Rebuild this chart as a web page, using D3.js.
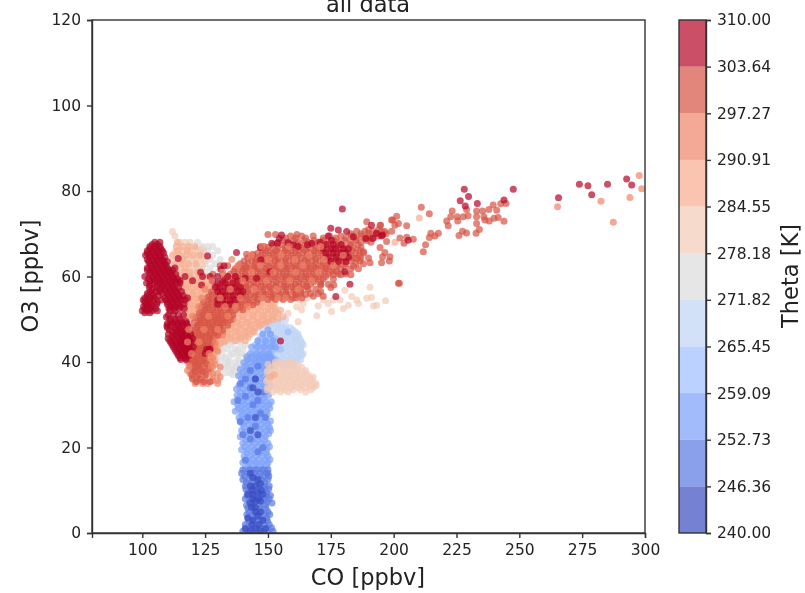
<!DOCTYPE html>
<html><head><meta charset="utf-8">
<script src="https://cdn.jsdelivr.net/npm/d3@7"></script>
<style>html,body{margin:0;background:#fff}svg{display:block;filter:blur(0.35px)}text{font-family:"DejaVu Sans",sans-serif;fill:#222}</style>
</head><body><svg id="c" width="805" height="593"></svg>
<script>
// every row: [O3, CO, CO, ...]
const theta240=[[0.5,143,147],[1,141,145,149],[2,143.6,146.4],[3,144,148],[3.5,142],[4,146],[5,145,147],[6,145,143.4],[7,143],[7.5,147,145],[8,144,146.3],[9,142,144,148],[9.5,146],[10,143.6,147.4],[11,143,145],[11.5,147],[12.5,146],[13,144],[14,143],[23,146],[24,143],[27,145],[33,146],[34,144],[36,145]];
const theta246=[[0.4,140,142,144,146,148,150,152],[1.2,141.2,143.3,145.4,147.6,149.6,151.4],[2,141,143.5,146,148.5,150.5],[2.8,142.4,144.8,147.3,149.8],[3.5,142,144.5,147,149.5],[4.3,141.6,143.8,146.2,148.7,150.7],[5,142.5,145,147.5,150],[5.8,142,144.3,146.8,149.2],[6.5,141.5,144,146.5,149],[7,151.6],[7.3,142.5,145,147.5,149.7],[8,141,143.5,146,148.5,150.5],[8.8,141.7,144.2,146.6,149.2,151],[9.5,142,144.5,147,149.5],[10.3,141.2,143.8,146.3,148.8,150.3],[11,141,143.5,146,148.5,150.5],[11.8,141.4,143.7,146.2,148.7],[12.5,140,142.5,145,147.5,150],[13.3,140.7,143.4,145.8,148.2,150.3],[14,139.5,142,144.5,147,149.5,150],[14.8,140,142.7,145.2,147.8,150],[17,141],[19,146],[20,148],[22,143],[23,140],[25,145],[26,139],[27,142,149],[28,147],[30,144],[31,138,146],[32,141],[33,148],[34,143],[35,139],[36,141,145],[38,143],[39,146]];
const theta252=[[15,141,143.5,146,148.5],[15.8,142.2,144.8,147.2,149.6],[16.5,140,142.5,145,147.5,150],[17.2,141.3,143.7,146.2,148.8,150.8],[18,140.5,143,145.5,148,150],[18.7,141.7,144.4,146.8,149.3],[19.5,139.5,142,144.5,147,149.5],[20.2,140.7,143.4,145.8,148.3,150.6],[21,140,142.5,145,147.5,150],[21.7,141.2,143.8,146.2,148.7],[22.5,139,141.5,144,146.5,149],[23.2,140.3,142.8,145.3,147.8,150.3],[24,139.5,142,144.5,147,149.5,151],[24.7,140.7,143.4,145.8,148.4,150.6],[25.5,140,142.5,145,147.5,150],[26.2,139,141.3,143.8,146.3,148.8,151],[27,138.5,141,143.5,146,148.5],[27.7,139.7,142.3,144.8,147.3,149.7],[28.5,137,139.5,142,144.5,147,149.5],[29.2,138.3,140.8,143.3,145.8,148.3,150.7],[30,138,140.5,143,145.5,148,150.5],[30.7,136.5,139.3,141.8,144.4,146.8,149.3,151.3],[31.5,138.5,141,143.5,146,148.5],[32.2,137.7,140.2,142.8,145.3,147.8,150.2],[33,139,141.5,144,146.5,149],[33.7,137.5,140.2,142.8,145.4,147.8,150],[34.5,138.5,141,143.5,146,148.5,151],[35.2,140,142.5,145,147.5,150],[36,139.5,142,144.5,147,149.5],[36.8,138.3,141,143.3,145.8,148.4,151],[37.5,140,142.5,145,147.5,150],[38.3,139,141.7,144.3,146.8,149.3],[39,141,143.5,146,148.5,151],[39.8,140.4,142.8,145.3,147.8,150.3],[40.5,142,144.5,147,149.5,152],[41.2,141.6,143.7,146.3,148.8,151],[42,143,145.5,148,150.5],[43.5,143.5,146,148.5,151,153],[45,146,149,152],[46.5,148,151],[47.5,150]];
const theta259=[[47,158],[46.5,148,151],[45.5,147.5,150.5,153],[45,146,149,152],[44.5,146.5,149.5,152.5],[44,145,148,151],[43.5,145.5,148.5,151.5],[43,147,150,153,155],[42.5,145.5,148.5,151.5],[42,144,147,150],[41.5,147.5,150.5],[41,146,149,152],[40.5,146.5,149.5,153],[40,145,148,151],[39.5,148.5,151.5],[39,147,150],[38,149]];
const theta265=[[50,157],[49.5,151,154],[49,149,152,155],[48.5,151,154,157],[48,146,150,153,156,159],[47.5,148,154,157,160],[47,152,155,158,161],[46.5,152,156,159,162],[46,147,150,154,157,160,162],[45.5,150,153.5,157,160,162.5],[45,152,155,158,161,163],[44.5,151,154.5,157.5,160.5,163.5],[44,149,153,156,159,162,164],[43.5,154,157,160,163],[43,152,155,158,161,163],[42.5,151,154.5,157.5,160.5,163],[42,150,153,156,159,162,164],[41.5,151.5,155,158,161,163.5],[41,153,156,159,162],[40.5,154,157,160,163],[40,152,155,158,161],[39.5,155,158.5],[39,153,157,160]];
const theta271=[[50,150],[49,147],[47,144],[46,141,137],[45,138,134],[44.5,133,136,139],[44,135,141,131],[43,131,134,137,140,132,138,128.6],[42,136,139,130],[41.5,132,135,138,141],[41,130,133,142],[40.2,131.5,134.5,138.5,141.5],[40,137,140,134],[39,131,134,137.4],[38.8,133,136,139,142],[38,141,136],[37.5,133,135,138],[37,136,139],[68,122],[67,124,128,126],[66,126,130,123],[65,124,128],[64,127,131],[63,125,129],[62,122,133,127],[61,130,125],[60,127],[59,129]];
const theta278=[[70.5,112],[69.5,113],[68,115,117,119],[66.5,115,118,121,123.5],[66,116,119,122],[65.8,113,116,119,122,124.5],[64.6,113.5,116.3,119,121.8,124.6],[64,118,121,124],[63.6,112,114.6,117,120,122.6,125],[62.4,112.6,115.4,118.6,121.5,124],[62,114,120,123],[61.6,112.4,115.2,118,120.8,123.6],[61,117],[60.4,113.2,116,118.8,121.4,124.2],[60,115,120,123,125],[58,118,122,125,128],[57,125],[56,120],[55,123,126],[53,122,125],[51,120],[50,124],[46,132],[45,129],[44,126],[43,130],[42,127],[40,128,153,155,158,160],[39.5,150,153,156,159,162],[38.8,151.4,154.4,157.4,160.4,163.4],[38,150,153,156,159,162,165],[37.6,149.6,152.4,155.4,158.4,161.4,164.4],[37,151,154,157,160,163,166],[36.5,153.4,156.4,159.4,162.4,165.4,168],[36,150,152,155,158,161,164,167],[35.5,149.5,152.6,155.6,158.6,161.6,164.6,167.6],[35,151,154,157,160,163,166,169],[34.5,151.6,154.5,157.6,160.6,163.6,166.6,169.2],[34,150,153,156,159,162,165,168],[33.5,149.6,153.6,156.6,160,163,167],[33,152,155,158,165],[54.5,162.7,172,178.7,176,185.3],[52.9,161.4],[53.7,164,174,186],[54.9,165.4,189.3],[52.2,163.4],[53.1,170,192],[51.8,175.3],[50.8,169.4],[52.5,180],[53.3,182,193.2],[55.3,183.3],[55.1,191.2],[54.3,196.8],[57.5,190.6],[56.8,180.6],[49.4,162],[51.4,158]];
const theta284=[[68,114],[67,113.5,116,118.5,121],[66,114,118],[65,112,114.7,117.5,120.2,123],[64,116],[63,113,115.6,118.4,121.4],[62,117],[61,113.7,116.5,119,122],[60,119],[59.6,114,116.6,119.4,122.2,125],[59,115,118,120.6,123.5],[58.3,114,116.6,119.2,122,124.8,127],[57.6,116,118.8,121.6,124.4,127],[57,114.6,117.4,120.2,123,126],[56.4,115.6,118,120.6,123.4,126.4],[55.6,117.2,119.8,122.2,124.6,127],[55,121,116,118.5,123,125.6,128],[54.3,115.8,118,120.4,122.6,125],[54,128,132,136,140,144,148],[53.8,126,130,134,138,142,146,150,152.6],[53.6,117,119,121.4,124],[53.3,127,131,135,139,143,147,151],[53,119,115.5,117.6,120.5,123.4],[52.9,128,132,136,140,144,148,152],[52.5,126,130,134,138,142,146,150,153],[52.4,116.4,118.6,121,123.2,125.4],[52.1,122,127,131,135,139,143,147,151,155],[51.8,124,129,133,137,141,145,149,153],[51.6,118,120.4,122.8],[51.4,126,130,134,138,142,146,150,154],[51,122,125,128,132,136,140,144,148,152,117,119.4,121.7],[50.6,124,128,132,136,140,144,148,152,156],[50.4,117.6,120,122.4],[50.2,126,130,134,138,142,146,150,154],[50,119],[49.9,128,132,136,140,144,148,152],[49.5,127,130,134,138,142,146,150],[49.2,123,126,130,133.5,137.5,141.5,145.5,149],[48.8,124,128,131.5,135.5,139.5,143.5,147.5],[48.4,127,131,135,139,143,146.6],[48,126,129,133,137,141,145],[47.7,125.6,129,132,135.5,139,142.5],[47.2,127,130,133,137,141,144],[47,121,126,134,138,141.6,144.6],[46.5,124,128,131,135,139,143],[46.1,123,126.5,130,133.5,137,140.6],[45.8,125,128,132,135,139,142],[45.4,124,128,131.5,135,139],[45,126,130,133,137,141],[44.6,122.6,125.4,129,132.5],[44.3,127,131],[43.9,124,127.5,130],[43.5,122,125,129],[43.1,121.5,124.5,128],[42.8,123,126,129.5],[42.4,122.5,125.5,129],[42,121,124,127],[41.6,120.5,123.5,127],[41.2,122,125,128.5],[40.9,121,124,127.5],[40.5,120,123,126,129],[40.2,122.5,125.5,128.5],[39.8,121,124,127],[39,122,125],[36.5,151],[37,152.5],[73.7,210.2],[68,200.5]];
const theta291=[[66,149,153,157,161,165,169,173,177],[64,145,149,153,157,161,165,169,173,177],[62,141,145,149,153,157,161,165,169,173],[60,137,141,145,149,153,157,161,165,169],[57.8,133,137,141,145,149,153,157,161,165],[55.8,133,137,141,145,149,153,157,161],[55,132,136,140,144,148,152,156,160],[50,124,127,130,133,136],[49.2,123,126,129],[48.5,122,125,128,131],[47,122,125,128,131],[46.3,123,126,129,132],[45.5,121,124,127],[44,123,126,129],[43.3,122,125,128],[42.5,121,124,127,130],[41,119,122,125,128],[40.2,120,124,127],[39.5,120,123,126,129],[38.8,122,125,128,131],[38,118,121,124,127],[37.3,119,122,125,128,130],[36.5,120,122,125,128,131],[35.7,122,125,128,130],[35,121,124,126,130],[77.6,282.5],[76.3,265.2],[78.5,294],[72.7,287.4],[83.6,297.7],[80.5,298.7]];
const theta297=[[75.3,223.3,233,235.4],[74,222.7,225.3,227.7,233,235.9],[74.2,229.6],[73,221.1,225.5,238],[71.9,221.7,205.2],[75.7,229,237.9],[72.4,233,201.9],[71,234.1],[70.1,232.8,217.8,214.8],[73.2,236.3,199.6,199.2],[76.7,239.6],[75.5,241],[77,242.6],[77.1,244.7],[73.6,239.9],[73.8,241.6],[72.9,243.9],[70.6,227.4,199.2],[69.6,226],[70.2,229],[69.5,216.4],[69.1,214.2],[67.4,212.7],[65.8,211.8,188],[76.2,211],[74.7,214.2],[74.1,201.2],[72,200.5,194.8,194.6],[70.5,196.5],[69,202.5],[68.7,207.8],[69.2,205.2],[67.8,204.1],[68.2,197.2],[66.8,194.6],[65.6,196.5],[64.6,198.5,195.6],[63.6,198.3],[63.2,195.2,190.6],[58.4,202.3,201.9],[72.8,189.3],[64.2,185.3],
[69.8,150,153,161.5],[67,147,148.5],[65.2,141.5,144],[62.5,134,131],[60.5,128,132],[56,163,167,170],[58,171,176.2],[55,161,163.5],[60.4,176,179,183],[55.4,168,172],[56.5,171],[57.4,175],
[71,190,194],[70.6,185.3,188.6,191.7,195.2],[70,183,187,190,193,197],[69.5,159,163.4,168,174.5,179,183.3,187.2,190.5,194],[69,157,161,165,172,177,181,185,189,192],[68.4,156,160.2,164.5,168.4,172,176.3,180.5,185,189.3],[68,154,158,162,166,170,174,178,183,187,191],[67.4,152,155.6,158.7,161.8,164.6,167.7,170.5,173.6,176.8,179.4,182.7,185.8],[66.8,150,154,157,160,163,166,169,172,175,178,181,184,187],[66.1,148,151,153.4,156.8,159.4,162.6,165.2,168.4,171.3,174.2,177.5,180.2,183.6,186.4],[65.5,146,149,152,155,158,161,164,167,170,173,176,179,182,185,188],[64.9,144,147.2,150.4,153.2,156,159.3,162,165.4,168,171.4,174,177.2,180.4,183,186.3],[64.3,142,145,148,151,154,157,160,163,166,169,172,175,178,181,184,187,190],[63.6,140.5,143.6,146.4,149.6,152.7,155.4,158.3,161.6,164.5,167.4,170.6,173.3,176.5,179.7,183,186.6],[63,139,142,145,148,151,154,157,160,163,166,169,172,175,178,181,185,188],[62.4,138.3,141.2,144.5,147.3,150.4,153.2,156.6,159.4,162.3,165.5,168.2,171.4,174.4,177.3,180.5,184],[61.8,137,140,143,146,149,152,155,158,161,164,167,170,173,176,179,183,186],[61.2,136.4,139.6,142.3,145.6,148.2,151.3,154.5,157.4,160.6,163.3,166.4,169.2,172.5,175.4,177.3],[60.6,135,138,141,144,147,150,153,156,159,162,165,168,171,174,178,181],[60,134,137.3,140.2,143,146.3,149.4,152.2,155.5,158.3,161.4,164.3,167.2,170.3,173],[59.4,133,136,139,142,145,148,151,154,157,160,163,166,169,172,176],[58.8,132.3,135.2,138.4,141.3,144.2,147.4,150.2,153.3,156.4,159.2,162.3,165.4,168.3,171],[58.2,131,134,137,140,143,146,149,152,155,158,161,164,167,171,174],[57.6,129.4,132.3,135.5,138.2,141.4,144.3,147.2,150.5,153.2,156.4,159.3,162.2,165.5],[57,130,133,136,139,142,145,148,151,154,157,160,163,166,169],[56.4,127.5,130.3,133.2,136.4,139.3,142.2,145.5,148.3,151.2,154.4,157.3,160.4,163.2],[55.8,128,131,134,137,140,143,146,149,152,155,158,161,165],[55.2,126.2,129.4,132.4,135.2,138.3,141.2,144.6,148,151.4,154.6,157.5],[54.6,127,130,133,136,139,142,146,150,153,156,159],[54,124.4,127.6,130.7,133.6,136.5,139.4,142.6,145.5],[53.4,126,129,132,135,138,141,144],[52.8,123.6,126.4,129.6,132.7,135.5,138.6],[52.2,125,128,131,134,137,140],[51.6,122.8,125.6,128.5,131.4,134.6],[51,124,127,130,133,136],[50.4,121.4,124.6,127.7,130.5,133.6],[49.8,123,126,129,132,135],[49.2,120.6,123.4,126.5,129.7,132.4],[48.6,122,125,128,131,134],[48,119,121.6,124.5,127.4,130.6],[47.4,120,123,126,129,132],[46.8,117.3,119.6,122.5,125.4,128.6],[46.2,118,121,124,127,130],[45.6,115.6,117.4,120.5,123.4,126.6],[45,116,119,122,125,128],[44.4,115.4,118.3,121.4,124.5,127.3],[43.8,117,120,123,126],[43.2,116.5,118.6,121.5,124.4],[42.6,116,119,122,125],[42,117.4,120.6,123.5],[41.4,117,120,123],[40.8,118.5,121.6,124.6],[40.2,118,121,124],[39.6,119.6,122.5,125.4],[39,119,122],[38.4,120.4,123.3,126.3],[37.8,121,124],[37,119.7,122.4,125.3],[36,120,123],[35.4,121.5,124.4,127]];
const theta291Over=[[67,147.6,158.4,171],[65,143.4,155.3,166.3,180],[64,135.6,150,160.7,172.4],[62.6,138,147,155,164,176],[61,132,143.5,152,161,170],[59,127.6,140,149.4,158.6,167.4],[57,125,135,144.6,153.4,162],[55,123.7,131,139,148,157,154],[53,122.5,133,137,142],[50.7,126.4,134,120],[47.6,118.5,124.6,130],[44.7,118,122.6,129],[42,119.6,126.6],[39,118.6,127.4]];
const theta304=[[80.4,228.1,247.6],[78.7,229.8],[77.7,226.5],[76.5,228.5],[77.1,233.3],[77.9,243.9],[78.4,265.6],[81.6,273.9,285.1],[81.2,277.3],[79.1,278.8],[82.8,292.7],[81.4,294.7],[68.5,205.8],[69.5,195.2],
[68,105,107],[67.5,104,106],[67,103,105,107],[66.5,103,105.3,107.4],[66,102,104,106,108],[65.5,102,104.2,106.3,108.5],[65,103,105,107,101.3],[64.5,103,105.4,107.3,109],[64,102,104,106,108],[63.5,102.5,104.3,106.4,108.5,110],[63,103,105,107,109],[62.5,103.4,105.5,107.6,109.5],[62,102,104,106,108,110,113],[61.5,102,104.4,106.5,108.6,110.5,112],[61,103,105,107,109,111,123.2],[60.5,103,105.4,107.3,109.4,111.6,113.3],[60,101,104,106,108,110,112,117,124,127,130,134,137],[59.5,102.4,104.5,106.6,108.3,110.4,112.4,114],[59,103,105,107,109,111,113,115,120,128,132,138],[58.5,101.7,104.4,107,109,111.4,113.4,115],[58,103,106,108,110,112,123.6],[57.5,102.8,105.5,108,110.3,112.3,114.5],[57,104,107,109,111,113],[56.5,103,105.5,106.8,109.2,111.4,113.3,115.6],[56,102,104,108,110,112,114],[55.5,102,104.3,106.5,110.3,112.4,114.4,116.3],[55,101,103,105,109,111,113,115,118],[54.5,100.4,102.4,104.6,107.5,109.5,111.4,113.2,115.4,117],[54,101,103,106,110,112,114],[53.5,101.6,103.4,105.7,110,112.3,114.4,116.6],[53,100.5,102,104,111,113,115],[52.5,101,103.2,105.3,110.6,112.6,114.8,116.7],[52,100,102,104,106,111,113],[51.5,101,103],[51,110.4,112.4,114.4,116.4],[50.5,109.6],[50,111,113,115],[49.5,111.3,113.4,115.6,117.4],[49,110,112,114,116,117.7],[48.5,109.8,111.4,114.2,116.2,118],[48,110,113,115],[47.5,110.8,113.4,115.3,117.3],[47,112,114,116],[46.5,110.4,113,115.2,117.3,119.2],[46,112,114,116,118],[45.5,110.3,112.4,114.5,116.4,118.4,120],[45,111,113,115,117,119],[44.5,111.4,113.5,115.5,117.4,119.4],[44,112,114,116,118],[43.5,112.4,114.4,116.5,118.5,120.3],[43,113,115,117,119,125.6,127,126.7],[42.5,113.4,115.4,117.5,119.4],[42,114,116,118,125],[41.5,114.4,116.3,118.4],[41,115,117],[40.6,115.3,117.4],[64.2,114.3],[64.8,126],
[58.5,130,133,136],[57.5,129,131,134,137,139],[56.5,130,132,135,138,140],[55.5,131,133,136,139],[54.5,130,132,135,137],[53.5,130,133,135],[61.7,131.3],[62.5,132.5],[65.6,137.5],[66.8,147],[67.8,151.5,153.7,167.4],[69.7,155.4,195.6],[68.9,154.5,188.9,191.6],[67.9,158],[67.4,160,165.7],[67,162],[68,170.7],[75.8,179.6],[71.3,175],[69.5,174],[70.9,178],[70.5,181.3],[68.5,175.3],[69.3,184],[72,191.2],[70.1,193.2],[58.2,182.6],[61.1,180.6,150.8],[55.3,177],[44.9,155],[63.9,147.2],[59.6,140.9,145.5],
[67.5,173,176,179],[66.5,172,175,177,180,182],[65.5,173,176,179,181],[64.5,174,177,180,182],[63.5,175,178,181]];
const bandLayers=[[5,theta271],[4,theta265],[3,theta259],[2,theta252],[1,theta246],[0,theta240],[6,theta278],[7,theta284],[8,theta291],[9,theta297],[10,theta304],[8,theta291Over]];
const bandColors=["#3b4cc0","#5977e3","#7b9ff9","#9ebeff","#c0d4f5","#dddcdc","#f2cbb7","#f7ac8e","#ee8468","#d65244","#b40426"];
const thetaTicks=[240,246.36,252.73,259.09,265.45,271.82,278.18,284.55,290.91,297.27,303.64,310];
const coTicks=[100,125,150,175,200,225,250,275,300];
const o3Ticks=[0,20,40,60,80,100,120];

const svg=d3.select("#c");
const x=d3.scaleLinear().domain([80,300]).range([92,645]);
const y=d3.scaleLinear().domain([0,120]).range([533,20]);
const cb=d3.scaleLinear().domain([240,310]).range([533,20]);

svg.append("clipPath").attr("id","plot").append("rect").attr("x",92).attr("y",20).attr("width",553).attr("height",513);
const pts=svg.append("g").attr("clip-path","url(#plot)");
bandLayers.forEach(([b,rows])=>{
  const data=rows.flatMap(r=>r.slice(1).map(co=>[co,r[0]]));
  pts.append("g").selectAll("circle").data(data).join("circle")
    .attr("cx",d=>x(d[0])).attr("cy",d=>y(d[1])).attr("r",3.5)
    .attr("fill",bandColors[b]).attr("fill-opacity",0.7);
});

function style(g,sz){g.selectAll("text").style("font-size",sz+"px").attr("fill","#222");g.selectAll("line,path").attr("stroke","#333").attr("stroke-width",1.4);}
const ax=svg.append("g").attr("transform","translate(0,533)").call(d3.axisBottom(x).tickValues(coTicks).tickSize(5).tickPadding(6).tickFormat(d3.format("d")));
style(ax,15.5);
const ay=svg.append("g").attr("transform","translate(92,0)").call(d3.axisLeft(y).tickValues(o3Ticks).tickSize(5).tickPadding(6).tickFormat(d3.format("d")));
style(ay,15.5);
svg.append("rect").attr("x",92).attr("y",20).attr("width",553).attr("height",513).attr("fill","none").attr("stroke","#333").attr("stroke-width",1.4);

// colorbar
svg.append("g").selectAll("rect").data(bandColors).join("rect")
  .attr("x",679).attr("width",27)
  .attr("y",(d,i)=>cb(thetaTicks[i+1])).attr("height",(d,i)=>cb(thetaTicks[i])-cb(thetaTicks[i+1]))
  .attr("fill",d=>d).attr("fill-opacity",0.7);
const ac=svg.append("g").attr("transform","translate(706,0)").call(d3.axisRight(cb).tickValues(thetaTicks).tickSize(5).tickPadding(6).tickFormat(d3.format(".2f")));
style(ac,15.5);
svg.append("rect").attr("x",679).attr("y",20).attr("width",27).attr("height",513).attr("fill","none").attr("stroke","#333").attr("stroke-width",1.4);

svg.append("text").attr("x",368).attr("y",12).attr("text-anchor","middle").style("font-size","22.5px").text("all data");
svg.append("text").attr("x",368).attr("y",585).attr("text-anchor","middle").style("font-size","22.5px").text("CO [ppbv]");
svg.append("text").attr("transform","translate(38,276) rotate(-90)").attr("text-anchor","middle").style("font-size","22.5px").text("O3 [ppbv]");
svg.append("text").attr("transform","translate(798,276) rotate(-90)").attr("text-anchor","middle").style("font-size","22.5px").text("Theta [K]");
</script></body></html>
